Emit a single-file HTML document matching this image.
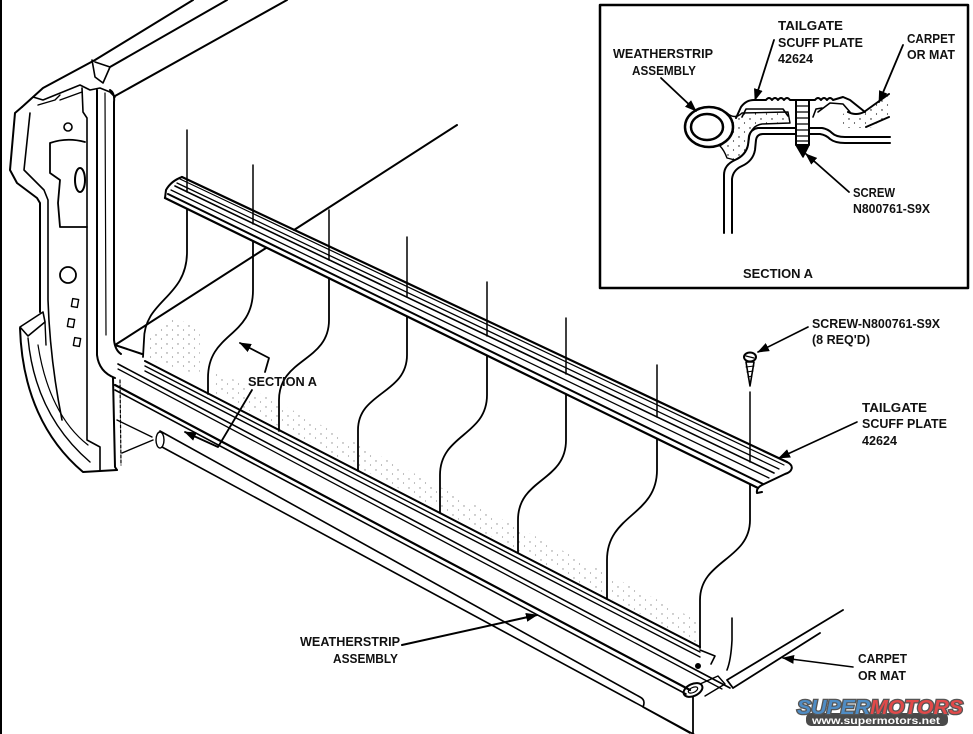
<!DOCTYPE html>
<html><head><meta charset="utf-8"><style>
html,body{margin:0;padding:0;background:#fff}
svg{display:block}
text{font-family:"Liberation Sans",Arial,sans-serif;font-weight:bold;font-size:12.5px;fill:#111}
</style></head><body>
<svg width="973" height="734" viewBox="0 0 973 734" xmlns="http://www.w3.org/2000/svg">
<defs>
<marker id="ah" markerUnits="userSpaceOnUse" markerWidth="12" markerHeight="9" refX="11" refY="4.5" orient="auto"><path d="M0,0 L12,4.5 L0,9 z" fill="#000"/></marker>
<pattern id="dots" width="5" height="5" patternUnits="userSpaceOnUse"><circle cx="1" cy="1" r="0.6" fill="#000"/><circle cx="3.5" cy="3.2" r="0.45" fill="#000"/></pattern>
<pattern id="sp" width="11" height="9" patternUnits="userSpaceOnUse"><circle cx="2" cy="2" r="0.7" fill="#000"/><circle cx="7.5" cy="6" r="0.6" fill="#000"/></pattern>
</defs>
<rect width="973" height="734" fill="#fff"/>
<line x1="1" y1="0" x2="1" y2="734" stroke="#000" stroke-width="2"/>

<g fill="none" stroke="#000" stroke-linecap="round" stroke-linejoin="round">
<!-- bed rail -->
<path d="M193,0 L95,60 L43,88 L22,107" stroke-width="2"/>
<path d="M227,0 L110,67" stroke-width="2"/>
<path d="M287,0 L115,96" stroke-width="2"/>
<path d="M92,60 L95,77 L103,83 L110,67 M95,62 L110,67" stroke-width="1.6"/>
<!-- post -->
<path d="M22,107 L15,113 L10,170 L17,183 L37,198 L40,203 L40,312" stroke-width="2"/>
<path d="M30,113 L24,170 L44,190 L48,200 L48,300 Q50,360 62,420" stroke-width="1.6"/>
<path d="M33,97 L43,100 L80,85 L90,90 L100,88 L110,92 L115,97" stroke-width="1.6"/>
<path d="M38,105 L55,100 L60,95 M60,100 L82,92" stroke-width="1.4"/>
<path d="M82,88 L83,112 L87,118 L87,440 L100,447 L100,470" stroke-width="1.6"/>
<path d="M97,90 L97,355 Q99,372 115,378" stroke-width="2"/>
<path d="M105,93 L106,335" stroke-width="1.2"/>
<path d="M110,90 Q115,93 114,102 L114,340 Q115,350 121,354" stroke-width="2"/>
<path d="M113,378 L115,467 L117,470" stroke-width="2"/>
<path d="M120,380 L121,465" stroke-width="1.2" stroke-dasharray="3,2"/>
<path d="M50,143 Q67,137 85,142 M50,143 L50,173 L60,180 L58,203 L60,227 L87,227" stroke-width="1.8"/>
<circle cx="68" cy="127" r="4" stroke-width="1.6"/>
<ellipse cx="80" cy="180" rx="5" ry="12" stroke-width="2"/>
<circle cx="68" cy="275" r="8" stroke-width="1.8"/>
<rect x="72" y="299" width="6" height="8" stroke-width="1.4" transform="rotate(10 75 303)"/>
<rect x="68" y="319" width="6" height="8" stroke-width="1.4" transform="rotate(10 71 323)"/>
<rect x="74" y="338" width="6" height="8" stroke-width="1.4" transform="rotate(10 77 342)"/>
<!-- bumper piece -->
<path d="M20,327 L43,312 L45,322 L28,336 Z" stroke-width="1.6"/>
<path d="M20,328 C22,392 45,440 83,472 L117,470" stroke-width="2"/>
<path d="M28,338 C33,392 55,432 90,462" stroke-width="1.4"/>
<path d="M38,345 C45,390 62,425 88,445" stroke-width="1.2"/>
<path d="M45,322 L46,345" stroke-width="1.4"/>
<path d="M117,420 L152,437 M122,453 L153,440" stroke-width="1.4"/>

<!-- floor diagonal -->
<path d="M457,125 L294,230 M266,248 L115,345 L142,354" stroke-width="2"/>

<!-- stipple areas (sparse) -->
<polygon points="150,338 175,318 200,328 200,375 145,358" fill="url(#sp)" stroke="none" opacity="0.5"/>
<polygon points="215,370 700,622 700,645 215,393" fill="url(#sp)" stroke="none" opacity="0.45"/>

<!-- upper scuff plate -->
<path d="M182,177 L787,462" stroke-width="2.2"/>
<path d="M180,179 L784,465" stroke-width="1.2"/>
<path d="M177,183 L779,469" stroke-width="1.3"/>
<path d="M175,186 L774,473" stroke-width="1.6"/>
<path d="M171,190 L769,478" stroke-width="1.3"/>
<path d="M168,194 L763,484" stroke-width="2"/>
<path d="M165,198 L758,488" stroke-width="2.2"/>
<path d="M182,177 Q171,181 166,190 L165,198" stroke-width="2"/>
<path d="M787,462 C795,466 792,472 785,474 L762,485 Q756,488 757,493 L762,492" stroke-width="2"/>

<!-- ticks -->
<path d="M187,130 L187,192 M253,165 L253,224 M329,210 L329,260 M407,237 L407,297 M487,282 L487,336 M566,318 L566,374 M657,365 L657,417 M750,392 L750,462" stroke-width="1.5"/>

<!-- curtains -->
<path d="M187,209 L187,252 C187,298 144,300 144,340 L143,357" stroke-width="1.8"/>
<path d="M253,241 L253,290 C253,338 208,332 208,378 L208,394" stroke-width="1.8"/>
<path d="M329,278 L329,320 C329,362 279,358 279,400 L279,431" stroke-width="1.8"/>
<path d="M407,317 L407,355 C407,394 358,392 358,430 L358,471" stroke-width="1.8"/>
<path d="M487,356 L487,395 C487,436 440,434 440,475 L440,513" stroke-width="1.8"/>
<path d="M566,394 L566,440 C566,482 518,478 518,520 L518,553" stroke-width="1.8"/>
<path d="M657,439 L657,470 C657,516 607,514 607,560 L607,599" stroke-width="1.8"/>
<path d="M750,485 L750,520 C750,560 700,560 700,600 L700,648" stroke-width="1.8"/>
<path d="M732,618 L732,640 Q731,660 727,670" stroke-width="1.6"/>

<!-- lower strip lines -->
<path d="M145,361 L700,647" stroke-width="2"/>
<path d="M145,366 L700,652" stroke-width="1.4"/>
<path d="M145,371 L700,657" stroke-width="1.4"/>
<path d="M118,364 L730,688" stroke-width="1.6"/>
<path d="M118,369 L722,689" stroke-width="1.3"/>
<path d="M115,385 L690,690" stroke-width="2.2"/>
<path d="M115,390 L686,694" stroke-width="1.6"/>
<path d="M160,431 L640,697 Q646,700 643,707 L690,733" stroke-width="1.6"/>
<path d="M162,447 L697,736" stroke-width="1.6"/>
<ellipse cx="160" cy="440" rx="4" ry="8" stroke-width="1.4"/>
<!-- right end -->
<path d="M700,650 L715,656 L711,664" stroke-width="1.6"/>
<circle cx="698" cy="666" r="2.5" fill="#000"/>
<ellipse cx="693" cy="690" rx="10" ry="6" transform="rotate(-25 693 690)" stroke-width="2"/>
<ellipse cx="693" cy="690" rx="5" ry="2.5" transform="rotate(-25 693 690)" stroke-width="1.2"/>
<path d="M700,684 L718,676 L725,684 L705,696" stroke-width="1.4"/>
<path d="M693,697 L693,734" stroke-width="1.8"/>
<path d="M727,680 L843,610 M733,688 L820,633 M727,680 L733,688" stroke-width="1.8"/>

<!-- screw icon -->
<ellipse cx="750" cy="357" rx="6" ry="4.5" stroke-width="2"/>
<path d="M746,356 L754,358" stroke-width="1.2"/>
<path d="M746,362 L754,362 L750,386 Z" stroke-width="1.6"/>
<path d="M746,367 L754,366 M747,372 L753,371 M748,377 L752,376" stroke-width="1"/>

<!-- callout arrows -->
<path d="M808,327 L758,352" stroke-width="1.6" marker-end="url(#ah)"/>
<path d="M857,422 L779,458" stroke-width="1.6" marker-end="url(#ah)"/>
<path d="M853,667 L783,658" stroke-width="1.6" marker-end="url(#ah)"/>
<path d="M402,645 L537,615" stroke-width="2" marker-end="url(#ah)"/>
<path d="M265,372 L269,358 L240,343" stroke-width="1.8" marker-end="url(#ah)"/>
<path d="M252,390 L218,447 L185,432" stroke-width="1.8" marker-end="url(#ah)"/>

<!-- inset -->
<rect x="600" y="5" width="368" height="283" stroke-width="2.5"/>
<path d="M727,113 Q735,120 742,113 L788,112 L790,123 L762,124 Q750,126 749,140 Q747,155 735,160 L727,158 Q724,150 720,146 Q730,138 728,125 Z" fill="url(#sp)" stroke-width="1.4"/>
<ellipse cx="709" cy="127" rx="24" ry="20" fill="#fff" stroke-width="2.5"/>
<ellipse cx="707" cy="127" rx="16" ry="13" stroke-width="2.5"/>
<path d="M724,233 L724,175 Q724,165 735,160 Q746,155 748,145 L749,136 Q751,129 758,128 L822,128 Q828,129 832,133 Q836,137 845,137 L890,137" stroke-width="2"/>
<path d="M732,233 L732,179 Q733,170 742,166 Q753,161 755,150 L756,140 Q757,134 763,134 L820,134 Q826,135 830,139 Q835,143 845,143 L890,143" stroke-width="2"/>
<polygon points="848,111 862,113 889,95 889,118 870,128 845,128 840,116" fill="url(#sp)" stroke="none"/>
<path d="M848,112 Q856,116 864,112 L889,94 M866,127 L889,117" stroke-width="2"/>
<path d="M818,112 L830,103 L843,104 L850,112" stroke-width="1.6"/>
<path d="M736,118 L741,107 Q746,100 754,100 L766,100 q3,-4 6,0 q3,-4 6,0 q3,-4 6,0 q3,-4 6,0 L796,100 M809,100 L815,100 q3,-4 6,0 q3,-4 6,0 q3,-4 6,0 L843,97 L850,100 L865,112" stroke-width="2"/>
<path d="M742,117 L746,109 L783,109 L788,116 M813,117 L816,109 L822,108" stroke-width="1.6"/>
<rect x="796" y="100" width="13" height="45" fill="#fff" stroke-width="2"/>
<path d="M796,106 L809,106 M796,112 L809,112 M796,118 L809,118 M796,124 L809,124 M796,130 L809,130 M796,136 L809,136 M796,141 L809,141" stroke-width="1.3"/>
<path d="M796,145 L809,145 L803,157 Z" fill="#000" stroke-width="1.5"/>
<path d="M661,78 L696,111" stroke-width="1.8" marker-end="url(#ah)"/>
<path d="M774,40 L755,100" stroke-width="1.8" marker-end="url(#ah)"/>
<path d="M903,45 L879,102" stroke-width="1.8" marker-end="url(#ah)"/>
<path d="M849,192 L806,154" stroke-width="1.8" marker-end="url(#ah)"/>
</g>

<!-- inset text -->
<text x="778" y="30" textLength="65" lengthAdjust="spacingAndGlyphs">TAILGATE</text>
<text x="778" y="47" textLength="85" lengthAdjust="spacingAndGlyphs">SCUFF PLATE</text>
<text x="778" y="63" textLength="35" lengthAdjust="spacingAndGlyphs">42624</text>
<text x="907" y="43" textLength="48" lengthAdjust="spacingAndGlyphs">CARPET</text>
<text x="907" y="59" textLength="48" lengthAdjust="spacingAndGlyphs">OR MAT</text>
<text x="613" y="58" textLength="100" lengthAdjust="spacingAndGlyphs">WEATHERSTRIP</text>
<text x="632" y="75" textLength="64" lengthAdjust="spacingAndGlyphs">ASSEMBLY</text>
<text x="853" y="197" textLength="42" lengthAdjust="spacingAndGlyphs">SCREW</text>
<text x="853" y="213" textLength="77" lengthAdjust="spacingAndGlyphs">N800761-S9X</text>
<text x="743" y="278" textLength="70" lengthAdjust="spacingAndGlyphs">SECTION A</text>

<!-- main text -->
<text x="812" y="328" textLength="128" lengthAdjust="spacingAndGlyphs">SCREW-N800761-S9X</text>
<text x="812" y="344" textLength="58" lengthAdjust="spacingAndGlyphs">(8 REQ'D)</text>
<text x="862" y="412" textLength="65" lengthAdjust="spacingAndGlyphs">TAILGATE</text>
<text x="862" y="428" textLength="85" lengthAdjust="spacingAndGlyphs">SCUFF PLATE</text>
<text x="862" y="445" textLength="35" lengthAdjust="spacingAndGlyphs">42624</text>
<text x="858" y="663" textLength="49" lengthAdjust="spacingAndGlyphs">CARPET</text>
<text x="858" y="680" textLength="48" lengthAdjust="spacingAndGlyphs">OR MAT</text>
<text x="300" y="646" textLength="100" lengthAdjust="spacingAndGlyphs">WEATHERSTRIP</text>
<text x="333" y="663" textLength="65" lengthAdjust="spacingAndGlyphs">ASSEMBLY</text>
<text x="248" y="386" textLength="69" lengthAdjust="spacingAndGlyphs">SECTION A</text>

<!-- watermark -->
<rect x="806" y="713" width="142" height="13" rx="5" fill="#4a4a4a"/>
<text x="797" y="714" textLength="166" lengthAdjust="spacingAndGlyphs" style="font-size:20px;font-style:italic;font-weight:900;stroke:#555;stroke-width:2.5;paint-order:stroke"><tspan fill="#4f8cc4">SUPER</tspan><tspan fill="#e04a4a">MOTORS</tspan></text>
<text x="812" y="724" textLength="128" lengthAdjust="spacingAndGlyphs" style="font-size:10px;fill:#fff">www.supermotors.net</text>
</svg>
</body></html>
